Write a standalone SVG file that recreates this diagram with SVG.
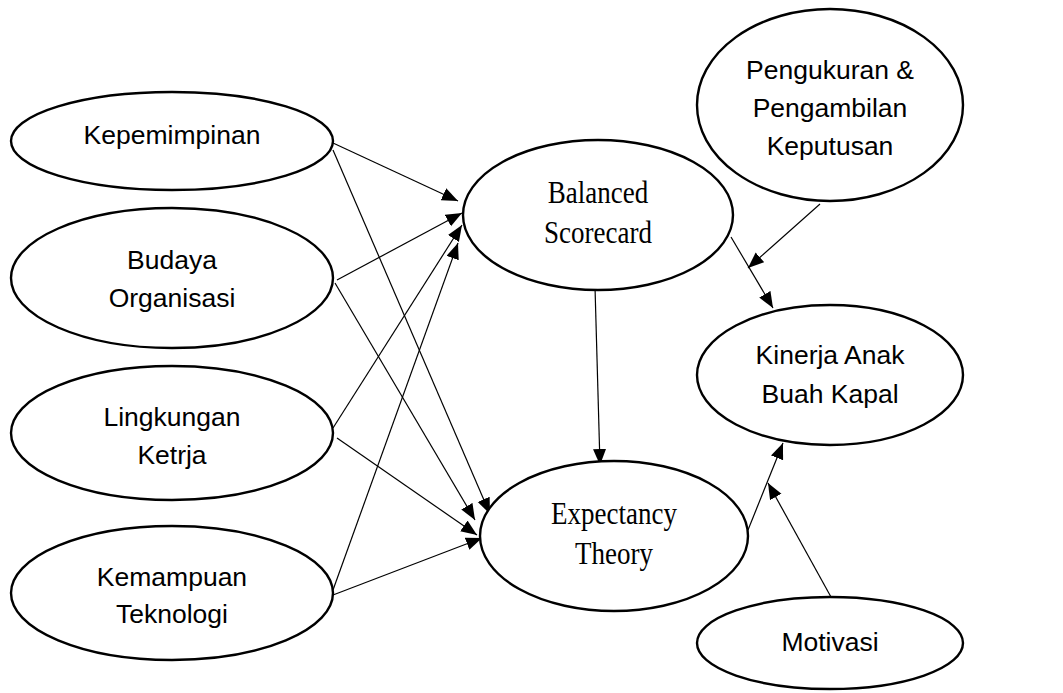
<svg xmlns="http://www.w3.org/2000/svg" width="1063" height="693" viewBox="0 0 1063 693">
<defs>
<style>
.n{fill:#fff;stroke:#000;stroke-width:2.4}
.s{font-family:"Liberation Sans",Arial,sans-serif;font-size:26.5px;fill:#000;text-anchor:middle}
.t{font-family:"Liberation Serif","Times New Roman",serif;font-size:27px;fill:#000;text-anchor:middle}
.c line{stroke:#000;stroke-width:1.2;marker-end:url(#ah)}
</style>
<marker id="ah" markerUnits="userSpaceOnUse" markerWidth="17" markerHeight="14" refX="16" refY="6.5" orient="auto">
<path d="M0,0 L16,6.5 L0,13 z" fill="#000"/>
</marker>
</defs>
<rect width="1063" height="693" fill="#fff"/>
<g class="c" id="connectors">
<line x1="333" y1="143" x2="458" y2="201"/>
<line x1="333" y1="150" x2="490" y2="514"/>
<line x1="337" y1="280" x2="462" y2="213"/>
<line x1="335" y1="283" x2="475" y2="520"/>
<line x1="333" y1="428" x2="462" y2="225"/>
<line x1="337" y1="438" x2="477" y2="535"/>
<line x1="333" y1="590" x2="458" y2="243"/>
<line x1="333" y1="595" x2="482" y2="538"/>
<line x1="595" y1="287" x2="600" y2="465"/>
<line x1="731" y1="237" x2="773" y2="308"/>
<line x1="820" y1="204" x2="748" y2="268"/>
<line x1="748" y1="530" x2="783" y2="443"/>
<line x1="831" y1="597" x2="768" y2="483"/>
</g>
<g id="kepemimpinan"><ellipse class="n" cx="172" cy="141" rx="161" ry="49"/><text class="s" x="172" y="144">Kepemimpinan</text></g>
<g id="budaya"><ellipse class="n" cx="172" cy="278" rx="161" ry="70"/><text class="s" x="172" y="269">Budaya</text><text class="s" x="172" y="307">Organisasi</text></g>
<g id="lingkungan"><ellipse class="n" cx="172" cy="433" rx="161" ry="67"/><text class="s" x="172" y="426">Lingkungan</text><text class="s" x="172" y="464">Ketrja</text></g>
<g id="kemampuan"><ellipse class="n" cx="172" cy="593" rx="161" ry="67"/><text class="s" x="172" y="586">Kemampuan</text><text class="s" x="172" y="623">Teknologi</text></g>
<g id="balanced"><ellipse class="n" cx="598" cy="215" rx="135" ry="75"/><text class="t" transform="translate(598,203) scale(1,1.15)">Balanced</text><text class="t" transform="translate(598,243) scale(1,1.15)">Scorecard</text></g>
<g id="expectancy"><ellipse class="n" cx="614" cy="536" rx="134" ry="75"/><text class="t" transform="translate(614,524) scale(1,1.15)">Expectancy</text><text class="t" transform="translate(614,564) scale(1,1.15)">Theory</text></g>
<g id="pengukuran"><ellipse class="n" cx="830" cy="105" rx="133" ry="96"/><text class="s" x="830" y="79">Pengukuran &amp;</text><text class="s" x="830" y="117">Pengambilan</text><text class="s" x="830" y="155">Keputusan</text></g>
<g id="kinerja"><ellipse class="n" cx="830" cy="375" rx="133" ry="70"/><text class="s" x="830" y="364">Kinerja Anak</text><text class="s" x="830" y="403">Buah Kapal</text></g>
<g id="motivasi"><ellipse class="n" cx="830" cy="643" rx="133" ry="46"/><text class="s" x="830" y="651">Motivasi</text></g>
</svg>
